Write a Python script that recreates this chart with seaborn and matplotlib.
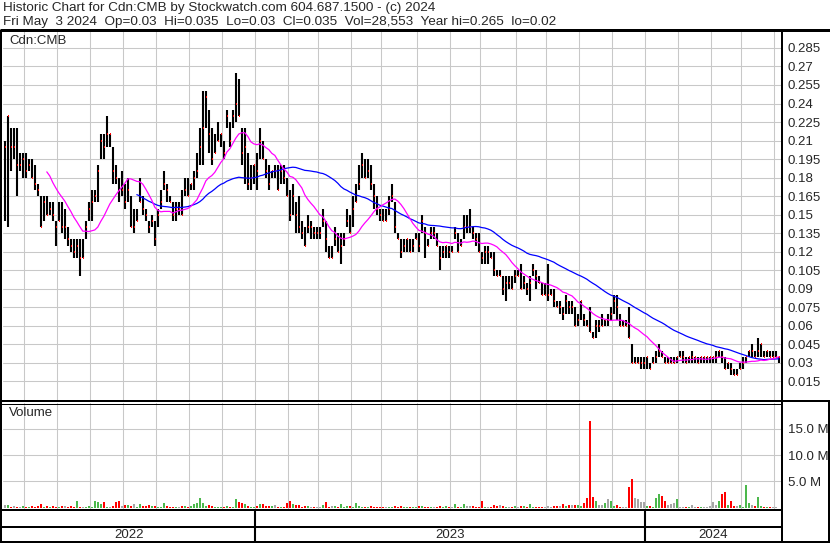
import numpy as np
import pandas as pd
import matplotlib
matplotlib.use("Agg")
import matplotlib.pyplot as plt
from matplotlib.lines import Line2D
import seaborn as sns

# one bar per two trading days, prices in thousandths of a dollar
high = [210, 230, 220, 220, 220, 200, 200, 200, 195, 195, 190, 175, 165, 165, 165, 160, 160, 145, 160, 160,
        155, 140, 130, 130, 130, 130, 130, 145, 160, 170, 170, 190, 215, 215, 230, 215, 205, 190, 180, 185,
        175, 180, 165, 155, 155, 180, 165, 155, 145, 150, 145, 155, 170, 185, 175, 165, 160, 160, 160, 170,
        180, 180, 175, 185, 200, 220,
        250, 250, 235, 220, 215, 225, 215, 210, 235, 225, 235, 265, 260, 220, 220, 200, 190, 190, 200, 220,
        210, 195, 190, 185, 190, 190, 190, 190, 180, 170, 175, 160, 165, 145, 140, 150, 145, 140, 140, 140,
        155, 145, 125, 125, 140, 135, 135, 135, 155, 150, 165, 175, 190, 200, 195, 195, 190, 175, 165, 155,
        155, 155, 165, 175, 160,
        135, 130, 130, 130, 130, 130, 135, 135, 150, 140, 130, 140, 140, 135, 125, 125, 125, 125, 125, 140,
        135, 130, 150, 150, 155, 140, 135, 135, 120, 125, 125, 120, 120, 105, 105, 100, 100, 100, 100, 105,
        105, 110, 100, 95, 100, 110, 105, 100, 95, 95, 110, 90, 90, 80, 80, 75, 85, 80, 80, 75,
        70, 80, 70, 65, 75,
        55, 65, 65, 70, 65, 70, 75, 85, 85, 70, 65, 65, 75, 45, 35, 35, 35, 35, 35, 30,
        35, 40, 45, 40, 35, 35, 35, 35, 35, 40, 40, 35, 35, 40, 35, 35, 35, 35, 35, 35,
        35, 40, 40, 40, 35, 30, 30, 25, 25, 30, 35, 35, 40, 45, 40, 50, 45, 40, 40, 40,
        40, 40, 35]
low = [145, 140, 185, 195, 165, 185, 180, 180, 185, 180, 170, 165, 140, 145, 150, 150, 145, 125, 145, 135,
       130, 125, 120, 115, 115, 100, 115, 130, 145, 145, 160, 160, 195, 195, 205, 205, 175, 175, 160, 165,
       155, 160, 140, 135, 145, 160, 150, 145, 135, 140, 125, 140, 155, 170, 160, 160, 145, 145, 150, 150,
       165, 165, 170, 170, 180, 190,
       190, 220, 200, 190, 200, 210, 205, 195, 220, 205, 220, 225, 230, 190, 175, 170, 170, 175, 170, 195,
       195, 180, 170, 180, 180, 170, 175, 175, 165, 145, 150, 135, 135, 130, 125, 135, 130, 130, 130, 130,
       140, 120, 115, 115, 125, 120, 110, 125, 140, 135, 140, 160, 170, 180, 180, 180, 170, 155, 150, 145,
       145, 145, 150, 160, 135,
       130, 115, 120, 120, 120, 120, 130, 120, 135, 115, 125, 130, 130, 125, 105, 115, 115, 115, 120, 130,
       120, 125, 130, 135, 135, 130, 125, 120, 110, 110, 110, 115, 100, 100, 100, 85, 80, 90, 90, 95,
       100, 90, 90, 85, 80, 100, 90, 95, 85, 85, 80, 85, 75, 75, 70, 65, 70, 70, 70, 60,
       60, 65, 60, 60, 55,
       50, 50, 55, 60, 60, 60, 65, 70, 65, 60, 60, 60, 50, 30, 30, 30, 25, 25, 25, 25,
       30, 30, 35, 35, 30, 30, 30, 30, 30, 35, 30, 30, 30, 30, 30, 30, 30, 30, 30, 30,
       30, 30, 35, 30, 25, 25, 20, 20, 20, 25, 25, 30, 35, 35, 35, 35, 35, 35, 35, 35,
       35, 35, 30]
close = [205, 230, 205, 205, 190, 190, 195, 185, 190, 180, 175, 170, 140, 160, 150, 155, 150, 140, 145, 140,
         140, 130, 125, 120, 125, 115, 115, 140, 155, 160, 165, 185, 210, 205, 215, 215, 185, 180, 170, 170,
         160, 170, 140, 140, 145, 160, 155, 150, 140, 145, 130, 150, 160, 175, 170, 160, 150, 155, 155, 150,
         170, 165, 175, 180, 185, 205,
         220, 245, 215, 195, 200, 210, 215, 200, 230, 210, 230, 240, 230, 200, 205, 175, 180, 190, 185, 210,
         195, 185, 175, 185, 185, 170, 185, 180, 165, 150, 165, 150, 140, 135, 125, 140, 140, 135, 135, 135,
         145, 130, 115, 115, 130, 120, 125, 130, 145, 135, 155, 160, 175, 190, 180, 185, 175, 165, 155, 150,
         145, 145, 155, 165, 140,
         130, 120, 125, 130, 120, 125, 130, 125, 145, 135, 125, 135, 135, 125, 115, 120, 125, 120, 120, 135,
         120, 125, 140, 140, 140, 135, 130, 120, 115, 120, 120, 115, 105, 100, 100, 90, 95, 95, 90, 100,
         100, 90, 95, 90, 95, 105, 100, 95, 85, 85, 85, 85, 80, 75, 75, 70, 80, 75, 75, 60,
         65, 80, 65, 60, 55,
         50, 60, 60, 60, 65, 65, 70, 80, 75, 60, 60, 60, 50, 30, 30, 30, 30, 30, 35, 25,
         30, 35, 40, 35, 30, 30, 30, 30, 35, 35, 35, 30, 35, 35, 35, 30, 35, 35, 35, 35,
         35, 35, 40, 35, 25, 30, 25, 20, 20, 25, 30, 35, 40, 40, 35, 40, 45, 35, 40, 35,
         35, 35, 35]
# volume, thousands of shares
volume = [600, 500, 200, 250, 150, 100, 300, 80, 60, 250,
          150, 400, 700, 150, 250, 100, 300, 200, 100, 250,
          250, 200, 250, 200, 1300, 150, 200, 200, 250, 100,
          1200, 1100, 700, 1000, 200, 150, 250, 1100, 1200, 400,
          500, 450, 300, 700, 150, 700, 300, 250, 550, 250,
          300, 200, 150, 800, 250, 150, 80, 60, 100, 250,
          400, 100, 250, 700, 850, 1800, 800, 300, 450, 350,
          150, 100, 100, 120, 250, 80, 200, 1600, 1100, 900,
          700, 400, 200, 100, 300, 700, 650, 250, 300, 250,
          450, 200, 150, 100, 900, 1200, 750, 600, 500, 100,
          250, 250, 60, 50, 80, 100, 450, 1000, 200, 250,
          300, 150, 650, 100, 250, 400, 150, 800, 250, 100,
          150, 150, 250, 100, 60, 150, 150, 100, 60, 200,
          250, 150, 400, 150, 150, 100, 100, 80, 250, 250,
          100, 60, 50, 80, 100, 250, 60, 250, 100, 150,
          650, 150, 100, 650, 300, 350, 250, 100, 100, 1200,
          150, 100, 60, 450, 400, 450, 350, 100, 150, 60,
          250, 60, 250, 250, 100, 650, 150, 150, 100, 60,
          50, 250, 100, 250, 250, 400, 650, 300, 450, 500,
          500, 600, 400, 900, 1800, 16500, 2100, 1200, 500, 450,
          800, 1600, 1200, 300, 450, 100, 80, 200, 4000, 5500,
          1800, 1700, 1100, 1000, 250, 400, 150, 1800, 2600, 2300,
          1200, 450, 750, 800, 1600, 150, 150, 60, 80, 450,
          100, 150, 150, 60, 80, 400, 1100, 600, 1200, 2600,
          2900, 450, 1200, 400, 400, 500, 100, 4400, 900, 500,
          400, 2100, 300, 100, 150, 60, 200, 80, 29]

price_ticks = ["0.015", "0.03", "0.045", "0.06", "0.075", "0.09", "0.105", "0.12", "0.135", "0.15",
               "0.165", "0.18", "0.195", "0.21", "0.225", "0.24", "0.255", "0.27", "0.285"]
vol_ticks = ["5.0 M", "10.0 M", "15.0 M"]
header1 = "Historic Chart for Cdn:CMB by Stockwatch.com 604.687.1500 - (c) 2024"
header2 = "Fri May  3 2024  Op=0.03  Hi=0.035  Lo=0.03  Cl=0.035  Vol=28,553  Year hi=0.265  lo=0.02"

sns.set_style("white")
plt.rcParams["font.family"] = ["Liberation Sans", "DejaVu Sans"]

dates = pd.bdate_range("2022-05-11", "2024-05-03")[::-2][::-1]
df = pd.DataFrame({"date": dates[-len(close):],
                   "high": np.array(high) / 1000, "low": np.array(low) / 1000,
                   "close": np.array(close) / 1000, "vol": volume})
df["x"] = np.arange(len(df))
df["ma_fast"] = df["close"].rolling(15).mean()
df["ma_slow"] = df["close"].rolling(45).mean()
chg = df["close"].diff().fillna(0)
df["vcol"] = np.where(chg > 0, "#4cb84c", np.where(chg < 0, "#ff0000", "#a6a6a6"))

month = df["date"].dt.month
year = df["date"].dt.year
month_pos = df["x"][month != month.shift()].values[1:] - 0.5
year_pos = df["x"][year != year.shift()].values[1:] - 0.5

W, H = 830, 543
fig = plt.figure(figsize=(W / 100, H / 100), dpi=100)

def box(x0, y0, x1, y1):
    return [x0 / W, 1 - y1 / H, (x1 - x0) / W, (y1 - y0) / H]

def line(x0, y0, x1, y1, px=2):
    fig.add_artist(Line2D([x0 / W, x1 / W], [1 - y0 / H, 1 - y1 / H], color="black",
                          lw=px * 0.72, transform=fig.transFigure, solid_capstyle="butt"))

xlim = (-0.6, len(df) - 0.3)
grid_kw = dict(color="#c8c8c8", lw=0.75)

# price panel
ax = fig.add_axes(box(3, 31, 781, 400))
ax.set_xlim(*xlim)
ax.set_ylim(0, 0.2987)
for v in month_pos:
    ax.axvline(v, zorder=0, **grid_kw)
for t in price_ticks:
    ax.axhline(float(t), zorder=0, **grid_kw)
ax.vlines(df["x"], df["low"], df["high"], color="black", lw=1.5, zorder=2)
ax.hlines(df["close"], df["x"], df["x"] + 0.5, color="#ff0000", lw=1.4, zorder=3)
sns.lineplot(data=df, x="x", y="ma_slow", color="#0000ff", lw=0.9, ax=ax, zorder=4)
sns.lineplot(data=df, x="x", y="ma_fast", color="#ff00ff", lw=0.9, ax=ax, zorder=4)
ax.yaxis.tick_right()
ax.set_yticks([float(t) for t in price_ticks], labels=price_ticks)
ax.set_xticks([])
ax.tick_params(axis="y", length=0, pad=5, labelsize=9.5)
ax.set_xlabel("")
ax.set_ylabel("")
for s in ax.spines.values():
    s.set_visible(False)
ax.text(6 / 778, 1 - 10 / 369, "Cdn:CMB", transform=ax.transAxes, va="center", fontsize=9.5)

# volume panel
axv = fig.add_axes(box(3, 403, 781, 509))
axv.set_xlim(*xlim)
axv.set_ylim(-250, 19950)
for v in month_pos:
    axv.axvline(v, zorder=0, **grid_kw)
vt = [5000, 10000, 15000]
for v in vt:
    axv.axhline(v, zorder=0, **grid_kw)
axv.bar(df["x"], df["vol"], width=0.85, color=df["vcol"], edgecolor="none", linewidth=0, zorder=2)
axv.yaxis.tick_right()
axv.set_yticks(vt, labels=vol_ticks)
axv.set_xticks([])
axv.tick_params(axis="y", length=0, pad=5, labelsize=9.5)
for s in axv.spines.values():
    s.set_visible(False)
axv.text(6 / 778, 1 - 10 / 106, "Volume", transform=axv.transAxes, va="center", fontsize=9.5)

# date strip
axd = fig.add_axes(box(3, 509, 781, 541))
axd.set_xlim(*xlim)
axd.set_ylim(0, 1)
axd.vlines(year_pos, 0, 1, color="black", lw=1.5)
edges = [xlim[0]] + list(year_pos) + [xlim[1]]
for i, y in enumerate(sorted(year.unique())):
    axd.text((edges[i] + edges[i + 1]) / 2, 0.2, str(y), ha="center", va="center", fontsize=9.5)
axd.axis("off")

# frame lines
line(0, 30, W, 30, 3)
line(1, 30, 1, 542)
line(782, 30, 782, 542)
line(0, 401, W, 401)
line(0, 404, 782, 404, 1)
line(0, 509.5, 782, 509.5)
line(0, 527, 782, 527)
line(0, 541.5, W, 541.5)
line(828.5, 401, 828.5, 542)

fig.text(3 / W, 1 - 7.5 / H, header1, va="center", fontsize=9.7)
fig.text(3 / W, 1 - 21.5 / H, header2, va="center", fontsize=9.7)

fig.savefig("out.png", dpi=100)
